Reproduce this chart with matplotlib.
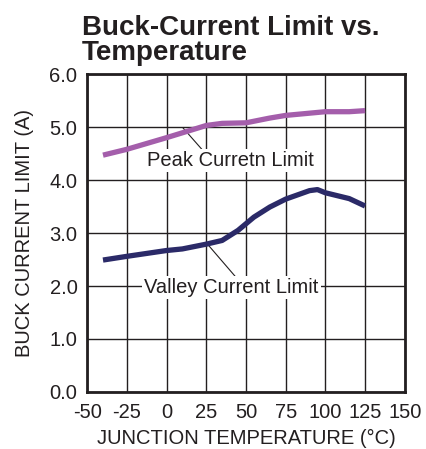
import matplotlib.pyplot as plt

plt.rcParams["font.family"] = ["Liberation Sans", "DejaVu Sans"]

# junction temperature (degC) and current limits (A)
temp_peak = [-40, -25, 0, 25, 35, 50, 65, 75, 100, 115, 125]
peak_limit = [4.47, 4.58, 4.80, 5.03, 5.07, 5.08, 5.17, 5.22, 5.29, 5.29, 5.31]

temp_valley = [-40, -25, 0, 10, 25, 35, 45, 55, 65, 75, 90, 95, 100, 115, 125]
valley_limit = [2.49, 2.56, 2.67, 2.70, 2.79, 2.86, 3.05, 3.30, 3.49, 3.64, 3.80, 3.82, 3.76, 3.65, 3.51]

xticks = [-50, -25, 0, 25, 50, 75, 100, 125, 150]
yticks = [0.0, 1.0, 2.0, 3.0, 4.0, 5.0, 6.0]

fs = 14.5
ink = "#231f20"

fig = plt.figure(figsize=(4.27, 4.49), dpi=100)
ax = fig.add_axes([0.204, 0.127, 0.744, 0.708])

ax.plot(temp_peak, peak_limit, color="#a45eab", lw=3.8, solid_capstyle="butt", zorder=3)
ax.plot(temp_valley, valley_limit, color="#2b2a68", lw=3.8, solid_capstyle="butt", zorder=3)

ax.set_xlim(-50, 150)
ax.set_ylim(0, 6)
ax.set_xticks(xticks)
ax.set_yticks(yticks)
ax.set_xticklabels([str(t) for t in xticks])
ax.set_yticklabels([f"{t:.1f}" for t in yticks])
ax.tick_params(length=0, labelsize=fs, colors=ink)
ax.tick_params(axis="y", pad=7)
ax.tick_params(axis="x", pad=8)
ax.grid(True, color=ink, lw=1.0, zorder=1)
ax.set_axisbelow(True)
for sp in ax.spines.values():
    sp.set_linewidth(2.0)
    sp.set_color(ink)

ax.set_xlabel("JUNCTION TEMPERATURE (°C)", fontsize=fs, color=ink, labelpad=5)
ax.set_ylabel("BUCK CURRENT LIMIT (A)", fontsize=fs, color=ink, labelpad=11)

# callouts
ax.plot([24, 10.5], [4.52, 4.98], color=ink, lw=0.8, zorder=2)
ax.text(40, 4.37, "Peak Curretn Limit", fontsize=fs, ha="center", va="center",
        color=ink, zorder=4,
        bbox=dict(facecolor="white", edgecolor="none", pad=1.5))
ax.plot([43, 25.5], [2.19, 2.80], color=ink, lw=0.8, zorder=2)
ax.text(41, 1.97, "Valley Current Limit", fontsize=fs, ha="center", va="center",
        color=ink, zorder=4,
        bbox=dict(facecolor="white", edgecolor="none", pad=1.5))

fig.text(0.192, 0.853, "Buck-Current Limit vs.\nTemperature", fontsize=20,
         fontweight="bold", ha="left", va="bottom", color=ink, linespacing=0.95)

fig.savefig("out.png", dpi=100)
